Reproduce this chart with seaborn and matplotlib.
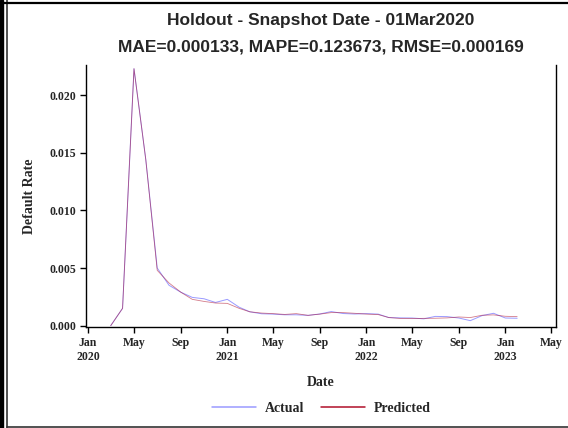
import pandas as pd
import seaborn as sns
import matplotlib.pyplot as plt
import matplotlib.dates as mdates
from matplotlib.lines import Line2D
from matplotlib.patches import Rectangle

# valores (inicio de cada mes, Mar/2020 a Fev/2023)
datas = pd.date_range('2020-03-01', '2023-02-01', freq='MS')
actual = [0.0000, 0.0015, 0.0223, 0.0144, 0.0050, 0.0035, 0.0029, 0.00245, 0.00233, 0.00201,
          0.00228, 0.0016, 0.0012, 0.00103, 0.00100, 0.00094, 0.00094, 0.00089, 0.00101, 0.00122,
          0.00105, 0.00101, 0.00104, 0.00100, 0.00070, 0.00067, 0.00066, 0.00059, 0.00080, 0.00078,
          0.00066, 0.00043, 0.00087, 0.00107, 0.00066, 0.00064]
predicted = [0.0000, 0.0015, 0.0223, 0.0144, 0.0048, 0.0037, 0.0029, 0.00228, 0.00210, 0.00196,
             0.00193, 0.0015, 0.0012, 0.00109, 0.00104, 0.00097, 0.00104, 0.00089, 0.00100, 0.00113,
             0.00113, 0.00107, 0.00100, 0.00096, 0.00070, 0.00062, 0.00061, 0.00063, 0.00064, 0.00067,
             0.00075, 0.00070, 0.00090, 0.00093, 0.00081, 0.00078]

tick_datas = pd.date_range('2020-01-01', '2023-05-01', freq='4MS')
tick_labels = ['Jan\n2020', 'May', 'Sep', 'Jan\n2021', 'May', 'Sep', 'Jan\n2022', 'May', 'Sep',
               'Jan\n2023', 'May']

titulo1 = 'Holdout - Snapshot Date - 01Mar2020'
titulo2 = 'MAE=0.000133, MAPE=0.123673, RMSE=0.000169'

df = pd.DataFrame({'Date': datas, 'Actual': actual, 'Predicted': predicted})

sns.set_style('white')
plt.rcParams['font.family'] = ['Liberation Serif', 'DejaVu Serif']
plt.rcParams['font.weight'] = 'bold'

fig = plt.figure(figsize=(5.68, 4.28), dpi=100)
ax = fig.add_axes([86 / 568, 1 - 327 / 428, 470 / 568, 262 / 428])

sns.lineplot(data=df, x='Date', y='Actual', color='#9a9aff', linewidth=0.7, ax=ax, label='Actual')
sns.lineplot(data=df, x='Date', y='Predicted', color='#b0102a', linewidth=0.6, alpha=0.55,
             ax=ax, label='Predicted')

ax.set_xlim(pd.Timestamp('2019-12-27'), pd.Timestamp('2023-05-14'))
ax.set_ylim(-0.00012, 0.02262)
ax.set_xticks(mdates.date2num(tick_datas))
ax.set_xticklabels(tick_labels, fontsize=8.5, fontweight='bold', linespacing=1.3)
ax.set_yticks([0.0, 0.005, 0.010, 0.015, 0.020])
ax.set_yticklabels(['0.000', '0.005', '0.010', '0.015', '0.020'], fontsize=8.5, fontweight='bold')
ax.tick_params(axis='both', direction='out', length=4, width=1, color='black', pad=3,
               bottom=True, left=True)

for lado in ['left', 'bottom', 'right']:
    ax.spines[lado].set_color('black')
    ax.spines[lado].set_linewidth(1)
ax.spines['top'].set_visible(False)

ax.set_xlabel('Date', fontsize=10, fontweight='bold', labelpad=9)
ax.set_ylabel('Default Rate', fontsize=10, fontweight='bold', labelpad=10)

fig.text(321 / 568, 1 - 21 / 428, titulo1, ha='center', va='center', fontsize=12.5,
         fontweight='bold', family='Liberation Sans')
fig.text(321 / 568, 1 - 47 / 428, titulo2, ha='center', va='center', fontsize=12.5,
         fontweight='bold', family='Liberation Sans')

leg = ax.legend(loc='center', bbox_to_anchor=(321 / 568, 1 - 408 / 428),
                bbox_transform=fig.transFigure, ncol=2, frameon=False, fontsize=10,
                handlelength=3.2, columnspacing=1.2, handletextpad=0.6)
for linha in leg.get_lines():
    linha.set_linewidth(1.1)
    linha.set_alpha(1)

# moldura da imagem
fig.add_artist(Rectangle((0, 0), 2.5 / 568, 1, transform=fig.transFigure, color='black'))
fig.add_artist(Line2D([6.5 / 568, 6.5 / 568], [0, 1], transform=fig.transFigure,
                      color='#333333', linewidth=1.2))
fig.add_artist(Line2D([0, 1], [1 - 2.5 / 428, 1 - 2.5 / 428], transform=fig.transFigure,
                      color='black', linewidth=1.6))
fig.add_artist(Line2D([6.5 / 568, 1], [1.2 / 428, 1.2 / 428], transform=fig.transFigure,
                      color='#333333', linewidth=1.2))

fig.savefig('out.png', dpi=100)
